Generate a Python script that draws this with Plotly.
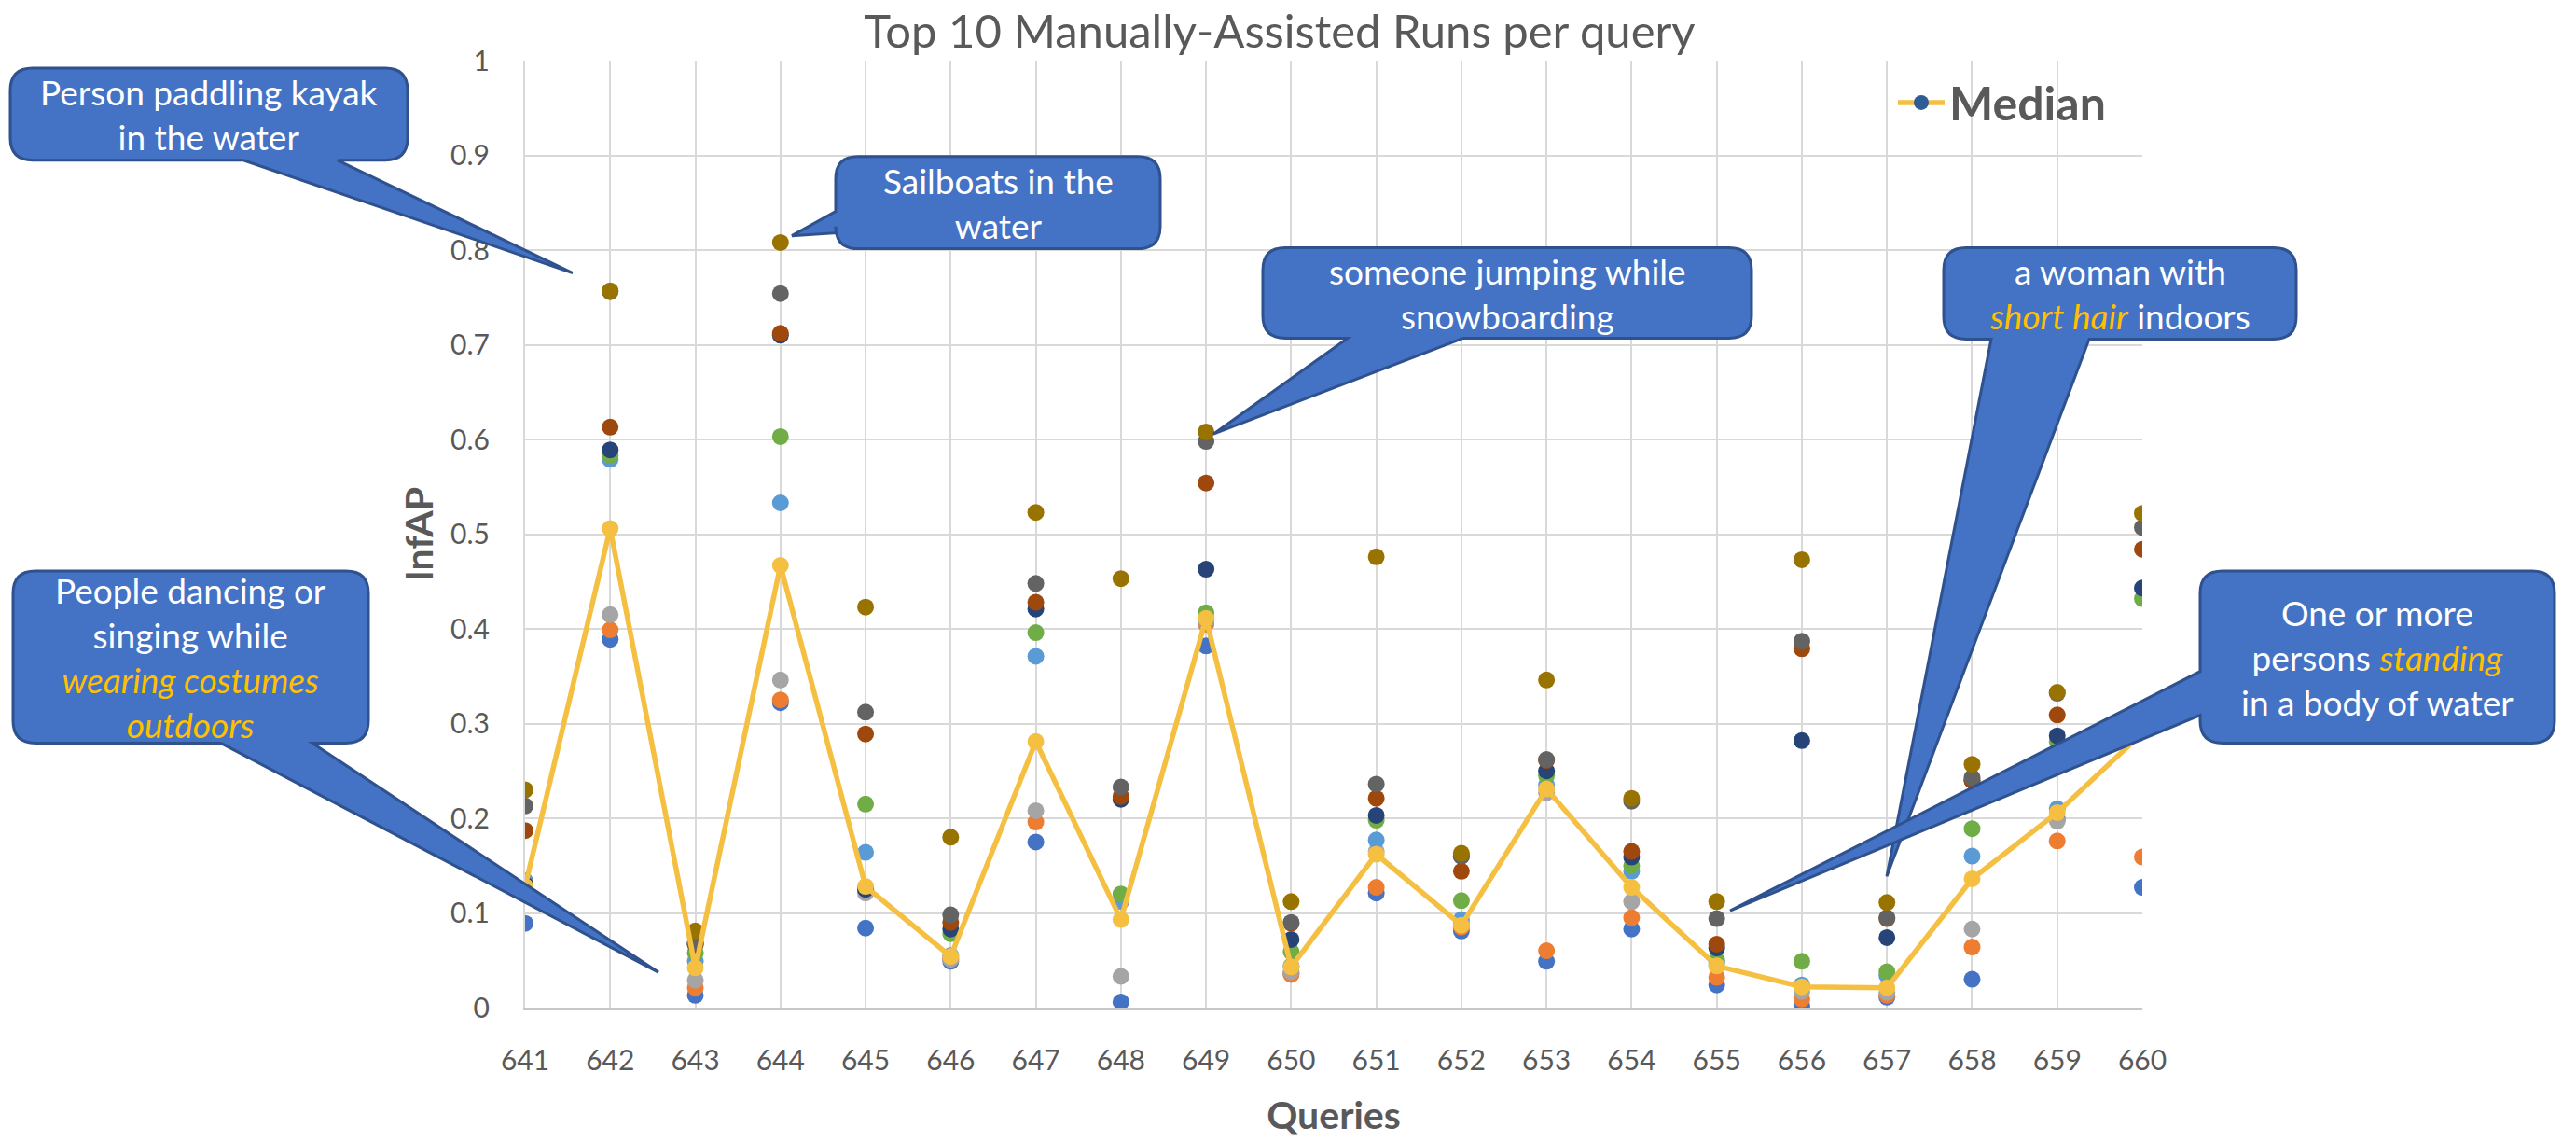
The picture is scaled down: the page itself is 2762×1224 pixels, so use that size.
import plotly.graph_objects as go

queries = list(range(641, 661))

run_blue      = [0.089, 0.389, 0.013, 0.322, 0.084, 0.049, 0.175, 0.006, 0.382, 0.036, 0.121, 0.081, 0.049, 0.083, 0.024, 0.002, 0.011, 0.030, 0.199, 0.127]
run_orange    = [0.128, 0.399, 0.021, 0.325, 0.125, 0.052, 0.196, 0.112, 0.405, 0.035, 0.127, 0.085, 0.060, 0.095, 0.032, 0.009, 0.013, 0.064, 0.176, 0.159]
run_gray      = [0.130, 0.415, 0.029, 0.346, 0.121, 0.051, 0.208, 0.033, 0.408, 0.038, 0.165, 0.090, 0.227, 0.112, 0.045, 0.017, 0.016, 0.083, 0.197, 0.290]
run_lightblue = [0.134, 0.579, 0.049, 0.533, 0.164, 0.055, 0.371, 0.113, 0.410, 0.044, 0.177, 0.093, 0.235, 0.144, 0.048, 0.024, 0.034, 0.160, 0.210, 0.290]
run_green     = [0.130, 0.583, 0.058, 0.603, 0.215, 0.078, 0.396, 0.120, 0.417, 0.059, 0.198, 0.113, 0.245, 0.150, 0.050, 0.049, 0.038, 0.189, 0.281, 0.432]
run_darkblue  = [0.130, 0.589, 0.067, 0.710, 0.125, 0.083, 0.421, 0.220, 0.463, 0.072, 0.203, 0.160, 0.250, 0.159, 0.063, 0.282, 0.074, 0.240, 0.287, 0.443]
run_brown     = [0.187, 0.613, 0.067, 0.712, 0.289, 0.090, 0.428, 0.223, 0.554, 0.089, 0.221, 0.144, 0.261, 0.165, 0.067, 0.379, 0.094, 0.240, 0.309, 0.484]
run_darkgray  = [0.213, 0.756, 0.069, 0.754, 0.312, 0.098, 0.448, 0.233, 0.598, 0.090, 0.236, 0.160, 0.262, 0.218, 0.094, 0.387, 0.095, 0.243, 0.332, 0.507]
run_olive     = [0.230, 0.757, 0.081, 0.808, 0.423, 0.180, 0.523, 0.453, 0.608, 0.112, 0.476, 0.163, 0.346, 0.221, 0.112, 0.473, 0.111, 0.257, 0.333, 0.522]
median        = [0.128, 0.506, 0.042, 0.467, 0.128, 0.054, 0.281, 0.093, 0.411, 0.043, 0.162, 0.087, 0.231, 0.127, 0.044, 0.022, 0.021, 0.136, 0.206, 0.290]

runs = [
    (run_blue, "#4472C4"),
    (run_orange, "#ED7D31"),
    (run_gray, "#A5A5A5"),
    (run_lightblue, "#5B9BD5"),
    (run_green, "#70AD47"),
    (run_darkblue, "#264478"),
    (run_brown, "#9E480E"),
    (run_darkgray, "#636363"),
    (run_olive, "#997300"),
]

W, H = 2762, 1224
PX0, PX1 = 563, 2297
PY0, PY1 = 65, 1082  # top (y=1), bottom (y=0)

FONT = "Lato"
TXT = "#595959"
GOLD = "#F5BF42"

fig = go.Figure()
for vals, col in runs:
    fig.add_trace(go.Scatter(x=queries, y=vals, mode="markers",
                             marker=dict(color=col, size=18),
                             showlegend=False, hoverinfo="x+y"))
fig.add_trace(go.Scatter(x=queries, y=median, mode="lines+markers",
                         line=dict(color=GOLD, width=5.5),
                         marker=dict(color=GOLD, size=18),
                         showlegend=False, name="Median"))
fig.add_trace(go.Scatter(x=[None], y=[None], mode="lines+markers",
                         line=dict(color=GOLD, width=5.5),
                         marker=dict(color="#2E5D96", size=18),
                         name="<b>Median</b>", showlegend=True))


def px(x):
    return (x - PX0) / (PX1 - PX0)


def py(y):
    return (PY1 - y) / (PY1 - PY0)


def P(x, y):
    return f"{px(x):.5f},{py(y):.5f}"


def callout(x0, y0, x1, y1, side, b0, b1, tip, r=24):
    s = f"M{P(x0 + r, y0)} L{P(x1 - r, y0)} Q{P(x1, y0)} {P(x1, y0 + r)} "
    s += f"L{P(x1, y1 - r)} Q{P(x1, y1)} {P(x1 - r, y1)} "
    if side == "bottom":
        s += f"L{P(b1, y1)} L{P(*tip)} L{P(b0, y1)} "
    s += f"L{P(x0 + r, y1)} Q{P(x0, y1)} {P(x0, y1 - r)} "
    if side == "left":
        s += f"L{P(x0, b1)} L{P(*tip)} L{P(x0, b0)} "
    s += f"L{P(x0, y0 + r)} Q{P(x0, y0)} {P(x0 + r, y0)} Z"
    return s


Y = "<span style='color:#FFC000'><i>{}</i></span>"
callouts = [
    ((11, 73, 437, 172), "bottom", 261, 362, (614, 293),
     "Person paddling kayak<br>in the water"),
    ((896, 168, 1244, 267), "left", 227, 250, (849, 253),
     "Sailboats in the<br>water"),
    ((1354, 266, 1878, 363), "bottom", 1445, 1569, (1301, 466),
     "someone jumping while<br>snowboarding"),
    ((2084, 266, 2462, 364), "bottom", 2135, 2240, (2023, 941),
     "a woman with<br>" + Y.format("short hair") + " indoors"),
    ((2359, 613, 2739, 798), "left", 721, 768, (1855, 978),
     "One or more<br>persons " + Y.format("standing") + "<br>in a body of water"),
    ((14, 613, 395, 798), "bottom", 237, 335, (706, 1044),
     "People dancing or<br>singing while<br>" + Y.format("wearing costumes") + "<br>" + Y.format("outdoors")),
]

shapes = []
annotations = []
for (x0, y0, x1, y1), side, b0, b1, tip, text in callouts:
    shapes.append(dict(type="path", xref="paper", yref="paper",
                       path=callout(x0, y0, x1, y1, side, b0, b1, tip),
                       fillcolor="#4472C4", line=dict(color="#2F528F", width=3),
                       layer="above"))
    annotations.append(dict(xref="paper", yref="paper",
                            x=px((x0 + x1) / 2), y=py((y0 + y1) / 2),
                            text=text, showarrow=False, align="center",
                            xanchor="center", yanchor="middle",
                            font=dict(family=FONT, size=37, color="white")))

fig.update_layout(
    width=W, height=H,
    margin=dict(l=PX0, r=W - PX1, t=PY0, b=H - PY1, pad=0),
    paper_bgcolor="white", plot_bgcolor="white",
    title=dict(text="Top 10 Manually-Assisted Runs per query",
               x=1372 / W, xref="container", xanchor="center",
               y=1 - 34 / H, yref="container", yanchor="middle",
               font=dict(family=FONT, size=49, color=TXT)),
    xaxis=dict(range=[641, 660], dtick=1, tick0=641, showgrid=True,
               gridcolor="#D9D9D9", gridwidth=2, zeroline=False,
               showline=True, linecolor="#C8C8C8", linewidth=3,
               ticks="outside", ticklen=28, tickcolor="rgba(0,0,0,0)",
               tickfont=dict(family=FONT, size=30, color=TXT),
               title=dict(text="<b>Queries</b>", standoff=30,
                          font=dict(family=FONT, size=41, color=TXT))),
    yaxis=dict(range=[0, 1], dtick=0.1, tick0=0, showgrid=True,
               gridcolor="#D9D9D9", gridwidth=2, zeroline=False,
               showline=True, linecolor="#D9D9D9", linewidth=2,
               ticks="outside", ticklen=30, tickcolor="rgba(0,0,0,0)",
               tickfont=dict(family=FONT, size=30, color=TXT),
               title=dict(text="<b>InfAP</b>", standoff=6,
                          font=dict(family=FONT, size=41, color=TXT))),
    legend=dict(x=px(2030), y=py(110), xanchor="left", yanchor="middle",
                bgcolor="rgba(0,0,0,0)", itemwidth=50,
                font=dict(family=FONT, size=50, color=TXT)),
    shapes=shapes,
    annotations=annotations,
)

fig.write_html("out.html", config={"displayModeBar": False},
               post_script="document.body.style.margin='0';")
